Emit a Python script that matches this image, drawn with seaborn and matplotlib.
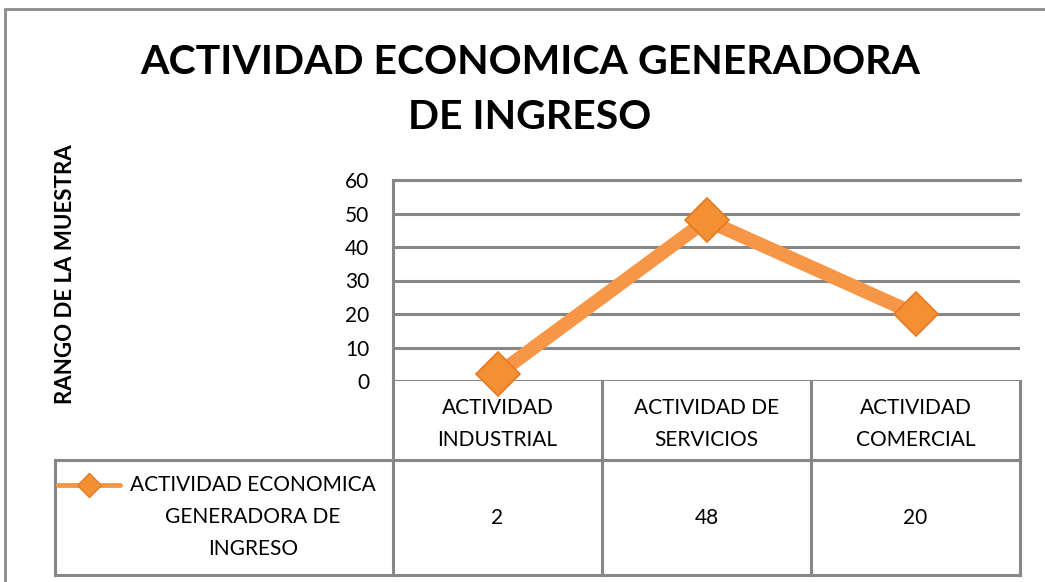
import matplotlib
matplotlib.use("Agg")
import matplotlib.pyplot as plt
import seaborn as sns
import pandas as pd
from matplotlib import font_manager
from matplotlib.lines import Line2D

# ---- data ----
title = "ACTIVIDAD ECONOMICA GENERADORA\nDE INGRESO"
y_label = "RANGO DE LA MUESTRA"
categories = ["ACTIVIDAD\nINDUSTRIAL", "ACTIVIDAD DE\nSERVICIOS", "ACTIVIDAD\nCOMERCIAL"]
values = [2, 48, 20]
value_labels = ["2", "48", "20"]
series_name = "ACTIVIDAD ECONOMICA\nGENERADORA DE\nINGRESO"
y_ticks = [0, 10, 20, 30, 40, 50, 60]

sns.set_style("white")
avail = {f.name for f in font_manager.fontManager.ttflist}
fam = [f for f in ["Liberation Sans Narrow", "Lato", "DejaVu Sans"] if f in avail]
plt.rcParams["font.family"] = fam
plt.rcParams["text.color"] = "black"

ORANGE = "#F79646"
GREY = "#878787"
W, H = 1045, 582


def fx(px):
    return px / W


def fy(py):
    return 1 - py / H


fig = plt.figure(figsize=(W / 100, H / 100), dpi=100)

# ---- main plot ----
L, R, T, B = 393, 1020, 180, 381
ax = fig.add_axes([fx(L), fy(B), fx(R) - fx(L), fy(T) - fy(B)])
df = pd.DataFrame({"cat": categories, "val": values})
sns.lineplot(data=df, x="cat", y="val", ax=ax, color=ORANGE, lw=10,
             marker="D", markersize=22, markerfacecolor="#F39034",
             markeredgecolor="#E57A22", markeredgewidth=1.2,
             sort=False, zorder=5, clip_on=False)
ax.set_xlim(-0.5, 2.5)
ax.set_ylim(0, 60)
ax.set_yticks(y_ticks)
ax.set_xticks([])
ax.set_xlabel("")
ax.set_ylabel("")
ax.yaxis.grid(True, color=GREY, lw=2.2)
ax.set_axisbelow(True)
for s in ["right", "bottom"]:
    ax.spines[s].set_visible(False)
for s in ["left", "top"]:
    ax.spines[s].set_color(GREY)
    ax.spines[s].set_linewidth(2.2)
ax.tick_params(axis="y", length=0, pad=17, labelsize=15, colors="black")

# ---- data table ----
unit = (R - L) / 3
TL, TB = 55, 575
tax = fig.add_axes([fx(TL), fy(TB), fx(R) - fx(TL), fy(B) - fy(TB)])
x_left = -0.5 - (L - TL) / unit
tax.set_xlim(x_left, 2.5)
tax.set_ylim(0, TB - B)
tax.axis("off")
row_split = TB - 460
lkw = dict(color=GREY, lw=2.2, clip_on=False, solid_capstyle="projecting")
for xb in [-0.5, 0.5, 1.5, 2.5]:
    tax.plot([xb, xb], [0, TB - B], **lkw)
tax.plot([x_left, 2.5], [row_split, row_split], **lkw)
tax.plot([x_left, 2.5], [0, 0], **lkw)
tax.plot([x_left, x_left], [0, row_split], **lkw)

for i, (c, v) in enumerate(zip(categories, value_labels)):
    tax.text(i, TB - 424, c, ha="center", va="center", fontsize=15,
             linespacing=1.8, multialignment="center", color="black")
    tax.text(i, TB - 518, v, ha="center", va="center", fontsize=15,
             color="black")

# legend key inside table
kx0 = x_left + (58 - TL) / unit
kx1 = x_left + (120 - TL) / unit
ky = TB - 485
tax.plot([kx0, kx1], [ky, ky], color=ORANGE, lw=3.5, clip_on=False)
tax.plot([(kx0 + kx1) / 2], [ky], marker="D", markersize=12,
         color="#F39034", markeredgecolor="#E57A22", clip_on=False)
tax.text(x_left + (253 - TL) / unit, TB - 517, series_name, ha="center",
         va="center", fontsize=15, linespacing=1.75, multialignment="center",
         color="black")

# ---- title and y label ----
fig.text(fx(530), fy(90), title, ha="center", va="center", fontsize=29.5,
         weight="bold", linespacing=1.6, color="black")
fig.text(fx(65), fy(274), y_label, ha="center", va="center", rotation=90,
         fontsize=16, weight="bold", color="black")

# outer chart border
bkw = dict(transform=fig.transFigure, color="#8C8C8C", lw=2)
fig.add_artist(Line2D([fx(5), 1], [fy(9), fy(9)], **bkw))
fig.add_artist(Line2D([fx(5), fx(5)], [fy(9), 0], **bkw))

fig.savefig("out.png", dpi=100)
